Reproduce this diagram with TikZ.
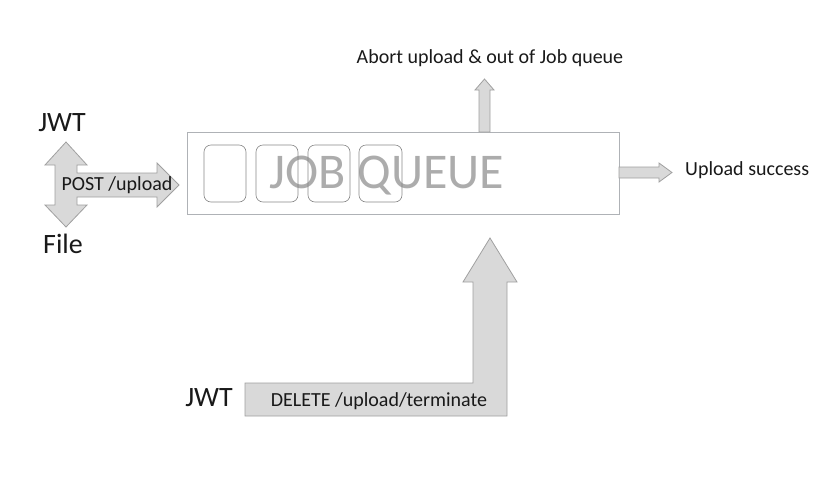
\documentclass[tikz,border=0pt]{standalone}
\usepackage{fontspec}
\setmainfont{Carlito}
\definecolor{arrfill}{RGB}{217,217,217}
\definecolor{arrline}{RGB}{160,160,160}
\definecolor{boxline}{RGB}{175,178,182}
\definecolor{slotline}{RGB}{135,135,135}
\definecolor{qtext}{RGB}{172,172,172}
\definecolor{txt}{RGB}{25,25,25}
\begin{document}
\begin{tikzpicture}[x=1pt,y=-1pt,
  blockarrow/.style={fill=arrfill,draw=arrline,line width=0.8pt,line join=miter},
  slot/.style={draw=slotline,line width=0.6pt,rounded corners=7pt},
  lbl/.style={text=txt,inner sep=0pt,font=\fontsize{20}{24}\selectfont},
  big/.style={text=txt,inner sep=0pt,font=\fontsize{28}{32}\selectfont}]
\useasboundingbox (0,0) rectangle (828,480);
% main queue box
\node[draw=boxline,line width=0.8pt,minimum width=432pt,minimum height=82pt,inner sep=0pt,anchor=north west] (queue) at (187,132) {};
\node[text=qtext,inner sep=0pt,font=\fontsize{50}{56}\selectfont] (qlabel) at (387,176) {JOB QUEUE};
\draw[slot] (204,145) rectangle (246,202);
\draw[slot] (256,145) rectangle (298,202);
\draw[slot] (308,145) rectangle (350,202);
\draw[slot] (359,145) rectangle (402,202);
% left cross arrow
\draw[blockarrow] (66,142) -- (87,165) -- (77,165) -- (77,173) -- (157,173) -- (157,163) -- (179,185)
  -- (157,207) -- (157,197) -- (77,197) -- (77,205) -- (87,205) -- (66,227) -- (45,205)
  -- (55,205) -- (55,165) -- (45,165) -- cycle;
\node[big] (jwt1) at (62,123) {JWT};
\node[big] (file) at (63,244) {File};
\node[lbl] (post) at (117,185) {POST /upload};
% top arrow
\draw[blockarrow] (479,132) -- (479,90) -- (475,90) -- (484.5,79) -- (494,90) -- (490,90) -- (490,132) -- cycle;
\node[lbl] (abort) at (490,58) {Abort upload \& out of Job queue};
% right arrow
\draw[blockarrow] (619,167) -- (659,167) -- (659,163) -- (672,172.5) -- (659,182) -- (659,178) -- (619,178) -- cycle;
\node[lbl,anchor=west] (success) at (685,170) {Upload success};
% bottom arrow
\draw[blockarrow] (245,383) -- (473,383) -- (473,282) -- (463,282) -- (490,238) -- (517,282) -- (507,282) -- (507,416) -- (245,416) -- cycle;
\node[big] (jwt2) at (209,398) {JWT};
\node[lbl] (delete) at (379,401) {DELETE /upload/terminate};
\end{tikzpicture}
\end{document}
